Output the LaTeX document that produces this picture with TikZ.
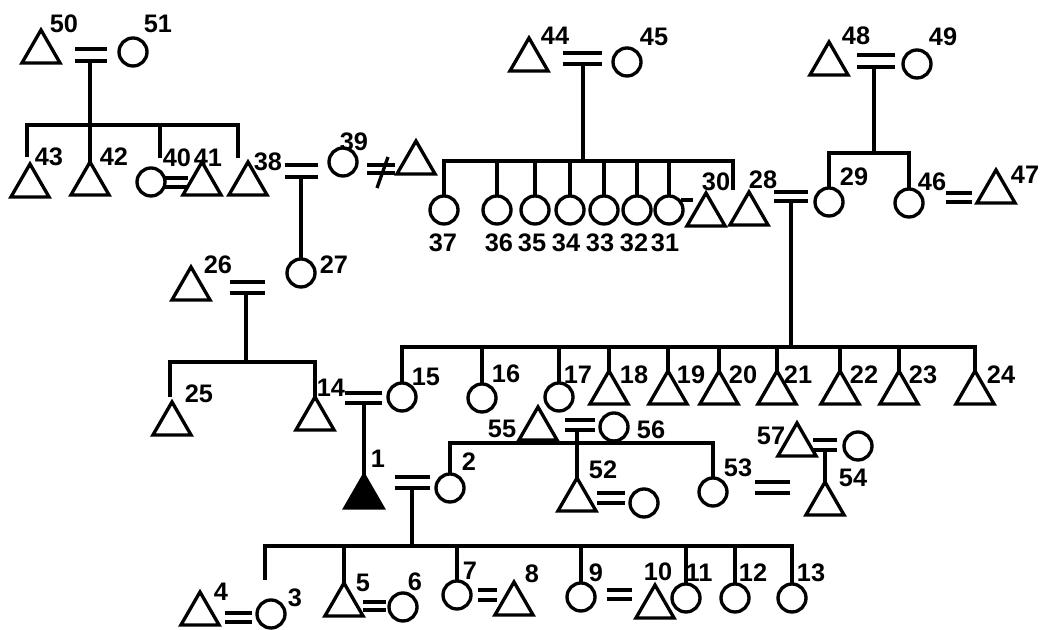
\documentclass[tikz,border=0pt]{standalone}
\usepackage{fontspec}
\setmainfont{Liberation Sans}
\usetikzlibrary{shapes.geometric}
\newcommand\labfont{\fontsize{19}{19}\selectfont\bfseries}
\newcommand\marbars[5]{%
  \coordinate (#1a1) at (#2,#4); \coordinate (#1a2) at (#3,#4);
  \coordinate (#1b1) at (#2,#5); \coordinate (#1b2) at (#3,#5);
  \draw[ln] (#1a1) -- (#1a2); \draw[ln] (#1b1) -- (#1b2);}
\tikzset{
  ln/.style={line width=2.5pt},
  tri/.style={regular polygon, regular polygon sides=3, draw, line width=2.5pt, minimum size=33pt, inner sep=0pt, outer sep=0pt},
  ftri/.style={tri, fill=black},
  cir/.style={circle, draw, line width=2.5pt, minimum size=21pt, inner sep=0pt, outer sep=0pt},
  lab/.style={font=\labfont, inner sep=0pt},
}
\begin{document}
\begin{tikzpicture}[x=0.75pt,y=-0.75pt]
\useasboundingbox[fill=white] (0,0) rectangle (1040,630);

% ---------- family 50 = 51 ----------
\node[tri] (t50) at (41,52) {};
\node[cir] (c51) at (133,52) {};
\node[lab] (l50) at (64,24) {50};
\node[lab] (l51) at (158,24) {51};
\marbars{m50}{75}{107}{49}{61}
\coordinate (m50d) at (90,61);
\coordinate (s50M) at (90,125);
\coordinate (s50L) at (27,125);
\coordinate (s50R) at (238,125);
\coordinate (e43) at (27,157);
\coordinate (e38) at (238,158);
\coordinate (s50c) at (160,125);
\coordinate (e40) at (160,158);
\draw[ln] (m50d) -- (s50M);
\draw[ln] (e43) -- (s50L) -- (s50R) -- (e38);
\draw[ln] (s50c) -- (e40);

\node[tri] (t43) at (30,186) {};
\node[tri] (t42) at (90,184) {};
\node[cir] (c40) at (151,182) {};
\node[tri] (t41) at (202,184) {};
\node[tri] (t38) at (248,184) {};
\node[lab] (l43) at (49,157) {43};
\node[lab] (l42) at (114,157) {42};
\node[lab] (l40) at (177,158) {40};
\node[lab] (l41) at (208,158) {41};
\node[lab] (l38) at (268,162) {38};
\draw[ln] (s50M) -- (t42.north);
\marbars{m40}{163}{188}{178}{187}

% ---------- 38 = 39 / 39 =/= triangle ----------
\node[cir] (c39) at (343,162) {};
\node[lab] (l39) at (354,142) {39};
\node[tri] (t39h) at (416,163) {};
\marbars{m38}{285}{318}{165}{177}
\node[cir] (c27) at (301,273) {};
\node[lab] (l27) at (334,265) {27};
\draw[ln] (c27.north |- m38b1) -- (c27.north);
\marbars{n39}{367}{395}{165}{173}
\coordinate (n39s1) at (377,188);
\coordinate (n39s2) at (388,157);
\draw[ln] (n39s1) -- (n39s2);

% ---------- family 44 = 45 ----------
\node[tri] (t44) at (529,60) {};
\node[cir] (c45) at (627,62) {};
\node[lab] (l44) at (555,36) {44};
\node[lab] (l45) at (654,37) {45};
\marbars{m44}{563}{602}{53}{64}
\coordinate (s44L) at (444,161);
\coordinate (s44R) at (733,161);
\coordinate (e30) at (733,190);
\coordinate (m44d) at (583,64);
\draw[ln] (m44d) -- (m44d |- s44L);
\node[cir] (c37) at (444,210) {};
\node[cir] (c36) at (497,210) {};
\node[cir] (c35) at (535,210) {};
\node[cir] (c34) at (570,210) {};
\node[cir] (c33) at (604,210) {};
\node[cir] (c32) at (637,210) {};
\node[cir] (c31) at (669,210) {};
\draw[ln] (c37.north) -- (s44L) -- (s44R) -- (e30);
\foreach \c in {c36,c35,c34,c33,c32,c31}
  \draw[ln] (\c.north) -- (\c.north |- s44L);
\node[lab] (l37) at (443,243) {37};
\node[lab] (l36) at (499,243) {36};
\node[lab] (l35) at (532,243) {35};
\node[lab] (l34) at (566,243) {34};
\node[lab] (l33) at (600,243) {33};
\node[lab] (l32) at (634,243) {32};
\node[lab] (l31) at (665,243) {31};
\coordinate (m31a) at (681,200);
\coordinate (m31b) at (693,200);
\draw[ln] (m31a) -- (m31b);
\node[tri] (t30) at (706,215) {};
\node[lab] (l30) at (716,182) {30};

% ---------- family 48 = 49 ----------
\node[tri] (t48) at (829,64) {};
\node[cir] (c49) at (917,64) {};
\node[lab] (l48) at (856,36) {48};
\node[lab] (l49) at (943,37) {49};
\marbars{m48}{857}{895}{55}{67}
\coordinate (m48d) at (874,67);
\coordinate (s48L) at (829,153);
\draw[ln] (m48d) -- (m48d |- s48L);
\node[cir] (c29) at (829,202) {};
\node[cir] (c46) at (909,203) {};
\draw[ln] (c29.north) -- (s48L) -- (c46.north |- s48L) -- (c46.north);
\node[lab] (l29) at (854,177) {29};
\node[lab] (l46) at (932,182) {46};
\marbars{m46}{946}{972}{193}{202}
\node[tri] (t47) at (996,192) {};
\node[lab] (l47) at (1025,175) {47};

% ---------- 28 = 29 ----------
\node[tri] (t28) at (749,214) {};
\node[lab] (l28) at (763,180) {28};
\marbars{m28}{774}{808}{192}{201}
\coordinate (m28d) at (791,201);
\coordinate (s28M) at (791,347);
\draw[ln] (m28d) -- (s28M);

% ---------- family 26 = 27 ----------
\node[tri] (t26) at (191,289) {};
\node[lab] (l26) at (218,265) {26};
\marbars{m26}{230}{265}{282}{293}
\coordinate (m26d) at (246,293);
\coordinate (s26M) at (246,362);
\coordinate (s26L) at (170,362);
\coordinate (e25) at (170,397);
\draw[ln] (m26d) -- (s26M);
\node[tri] (t25) at (172,424) {};
\node[tri] (t14) at (315,419) {};
\node[lab] (l25) at (199,394) {25};
\node[lab] (l14) at (331,388) {14};
\draw[ln] (e25) -- (s26L) -- (t14.north |- s26L) -- (t14.north);

% ---------- children of 28 = 29 ----------
\node[cir] (c15) at (402,397) {};
\node[cir] (c16) at (482,398) {};
\node[cir] (c17) at (559,397) {};
\node[tri] (t18) at (609,393) {};
\node[tri] (t19) at (668,393) {};
\node[tri] (t20) at (719,393) {};
\node[tri] (t21) at (777,393) {};
\node[tri] (t22) at (840,393) {};
\node[tri] (t23) at (899,393) {};
\node[tri] (t24) at (975,393) {};
\coordinate (s28L) at (402,347);
\draw[ln] (c15.north) -- (s28L) -- (t24.north |- s28L) -- (t24.north);
\foreach \c in {c16,c17,t18,t19,t20,t21,t22,t23}
  \draw[ln] (\c.north) -- (\c.north |- s28L);
\node[lab] (l15) at (426,377) {15};
\node[lab] (l16) at (506,374) {16};
\node[lab] (l17) at (578,375) {17};
\node[lab] (l18) at (634,375) {18};
\node[lab] (l19) at (691,375) {19};
\node[lab] (l20) at (743,375) {20};
\node[lab] (l21) at (798,375) {21};
\node[lab] (l22) at (864,375) {22};
\node[lab] (l23) at (923,375) {23};
\node[lab] (l24) at (1001,375) {24};

% ---------- 14 = 15 ----------
\marbars{m14}{345}{382}{393}{403}
\node[ftri] (t1) at (364,497) {};
\node[lab] (l1) at (378,459) {1};
\draw[ln] (t1.north |- m14b1) -- (t1.north);

% ---------- 55 = 56 ----------
\node[tri] (t55) at (538,429) {};
\node[lab] (l55) at (502,429) {55};
\node[cir] (c56) at (614,427) {};
\node[lab] (l56) at (651,430) {56};
\marbars{m55}{565}{595}{420}{430}
\node[cir] (c2) at (450,488) {};
\node[lab] (l2) at (469,462) {2};
\node[cir] (c53) at (713,492) {};
\node[lab] (l53) at (738,468) {53};
\coordinate (s55L) at (450,443);
\draw[ln] (c2.north) -- (s55L) -- (c53.north |- s55L) -- (c53.north);
\node[tri] (t52) at (577,500) {};
\node[lab] (l52) at (603,470) {52};
\draw[ln] (t52.north |- m55b1) -- (t52.north);
\marbars{m52}{597}{625}{493}{503}
\node[cir] (cw52) at (644,503) {};
\marbars{m53}{755}{790}{482}{493}

% ---------- 57 = circle ----------
\node[tri] (t57) at (797,445) {};
\node[lab] (l57) at (771,436) {57};
\marbars{m57}{813}{837}{440}{450}
\node[cir] (cw57) at (858,446) {};
\node[tri] (t54) at (825,504) {};
\node[lab] (l54) at (853,478) {54};
\draw[ln] (t54.north |- m57b1) -- (t54.north);

% ---------- 1 = 2 and children ----------
\marbars{m1}{395}{430}{477}{488}
\coordinate (m1d) at (412,488);
\coordinate (s1M) at (412,546);
\coordinate (s1L) at (265,546);
\coordinate (e4) at (265,580);
\draw[ln] (m1d) -- (s1M);
\node[tri] (t4) at (200,614) {};
\node[lab] (l4) at (221,592) {4};
\marbars{m4}{225}{252}{613}{622}
\node[cir] (c3) at (271,614) {};
\node[lab] (l3) at (295,598) {3};
\node[tri] (t5) at (344,605) {};
\node[lab] (l5) at (363,583) {5};
\marbars{m5}{363}{386}{602}{610}
\node[cir] (c6) at (403,607) {};
\node[lab] (l6) at (415,582) {6};
\node[cir] (c7) at (457,595) {};
\node[lab] (l7) at (470,571) {7};
\marbars{m7}{478}{497}{590}{600}
\node[tri] (t8) at (514,604) {};
\node[lab] (l8) at (532,574) {8};
\node[cir] (c9) at (581,597) {};
\node[lab] (l9) at (596,573) {9};
\marbars{m9}{607}{632}{590}{599}
\node[tri] (t10) at (655,607) {};
\node[lab] (l10) at (658,572) {10};
\node[cir] (c11) at (686,598) {};
\node[lab] (l11) at (699,573) {11};
\node[cir] (c12) at (735,598) {};
\node[lab] (l12) at (753,573) {12};
\node[cir] (c13) at (792,598) {};
\node[lab] (l13) at (811,573) {13};
\draw[ln] (e4) -- (s1L) -- (c13.north |- s1L) -- (c13.north);
\foreach \c in {t5,c7,c9,c11,c12}
  \draw[ln] (\c.north) -- (\c.north |- s1L);
\end{tikzpicture}
\end{document}
